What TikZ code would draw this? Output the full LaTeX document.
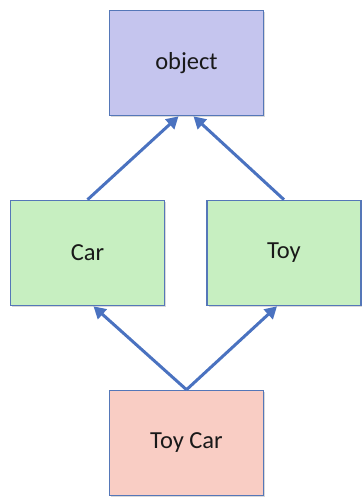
\documentclass[tikz,border=0pt]{standalone}
\usepackage{fontspec}
\setmainfont{Carlito}
\usetikzlibrary{arrows.meta,shadows}
\definecolor{boxline}{HTML}{5577B8}
\definecolor{arrowblue}{HTML}{4A72C0}
\definecolor{objfill}{HTML}{C5C5EE}
\definecolor{greenfill}{HTML}{C7EFC1}
\definecolor{pinkfill}{HTML}{F9CDC4}
\begin{document}
\begin{tikzpicture}[x=1pt,y=-1pt,
  classbox/.style={draw=boxline,line width=1.6pt,minimum width=154pt,minimum height=105pt,
    inner sep=0pt,font=\fontsize{24.5}{28}\selectfont,text=black!90,
    drop shadow={shadow xshift=1.5pt,shadow yshift=-1.5pt,opacity=0.3}},
  inherit/.style={draw=arrowblue,line width=3pt,-{Triangle[length=12pt,width=13pt]}}]
\useasboundingbox (0,0) rectangle (361,497);
\node[classbox,fill=objfill] (obj) at (186.5,63) {object};
\node[classbox,fill=greenfill] (car) at (87.5,253) {Car};
\node[classbox,fill=greenfill] (toy) at (284,253) {Toy};
\node[classbox,fill=pinkfill] (tc) at (186.5,443) {Toy Car};
\draw[inherit] (car.north) -- ([xshift=-8pt]obj.south);
\draw[inherit] (toy.north) -- ([xshift=7pt]obj.south);
\draw[inherit] (tc.north) -- ([xshift=6pt]car.south);
\draw[inherit] (tc.north) -- ([xshift=-7pt]toy.south);
\end{tikzpicture}
\end{document}
